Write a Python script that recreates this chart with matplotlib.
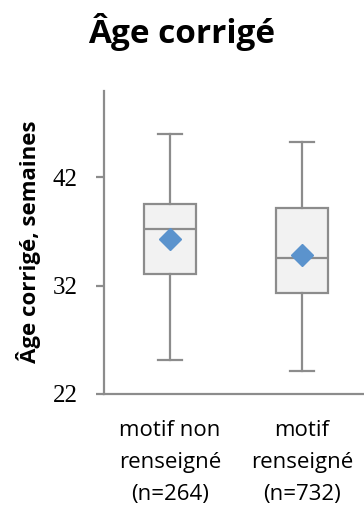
#!/usr/bin/env python3

import matplotlib

matplotlib.use("Agg")

import matplotlib.pyplot as plt

# box plot summary values (weeks)
categories = ["motif non\nrenseigné\n(n=264)", "motif\nrenseigné\n(n=732)"]
whisker_low = [25.1, 24.1]
q1 = [33.1, 31.3]
median = [37.2, 34.6]
q3 = [39.5, 39.2]
whisker_high = [46.0, 45.3]
mean = [36.3, 34.8]
y_ticks = [22, 32, 42]

GRAY = "#8c8c8c"
BLUE = "#5b93cd"


def main():
    fig = plt.figure(figsize=(3.64, 5.13), dpi=100)
    ax = fig.add_axes([0.2857, 0.232, 0.7143, 0.591])

    stats = []
    for i, label in enumerate(categories):
        stats.append(
            {
                "label": label,
                "whislo": whisker_low[i],
                "q1": q1[i],
                "med": median[i],
                "q3": q3[i],
                "whishi": whisker_high[i],
                "mean": mean[i],
            }
        )

    line = dict(color=GRAY, linewidth=1.6)
    ax.bxp(
        stats,
        positions=[1, 2],
        widths=0.39,
        patch_artist=True,
        showmeans=True,
        showfliers=False,
        boxprops=dict(facecolor="#f2f2f2", edgecolor=GRAY, linewidth=1.6),
        medianprops=line,
        whiskerprops=line,
        capprops=line,
        capwidths=0.18,
        meanprops=dict(marker="D", markerfacecolor=BLUE, markeredgecolor=BLUE, markersize=11),
    )

    ax.set_xlim(0.5, 2.47)
    ax.set_ylim(22, 50)
    ax.set_yticks(y_ticks)
    ax.set_yticklabels([str(v) for v in y_ticks], family="Liberation Serif", fontsize=18)
    ax.tick_params(axis="y", length=6, width=1.6, color=GRAY, pad=13)
    ax.tick_params(axis="x", length=0, pad=19)
    for lbl in ax.get_xticklabels():
        lbl.set_family("Open Sans")
        lbl.set_fontsize(16)
        lbl.set_linespacing(1.68)

    for side in ("top", "right"):
        ax.spines[side].set_visible(False)
    for side in ("left", "bottom"):
        ax.spines[side].set_color(GRAY)
        ax.spines[side].set_linewidth(1.6)

    fig.text(0.5, 0.916, "Âge corrigé", ha="center", va="baseline",
             family="Open Sans", fontweight="bold", fontsize=24)
    fig.text(0.077, 0.529, "Âge corrigé, semaines", rotation=90, ha="center", va="center",
             family="Open Sans", fontweight="bold", fontsize=16)

    fig.savefig("out.png", dpi=100, facecolor="white")
    plt.close(fig)


if __name__ == "__main__":
    main()
